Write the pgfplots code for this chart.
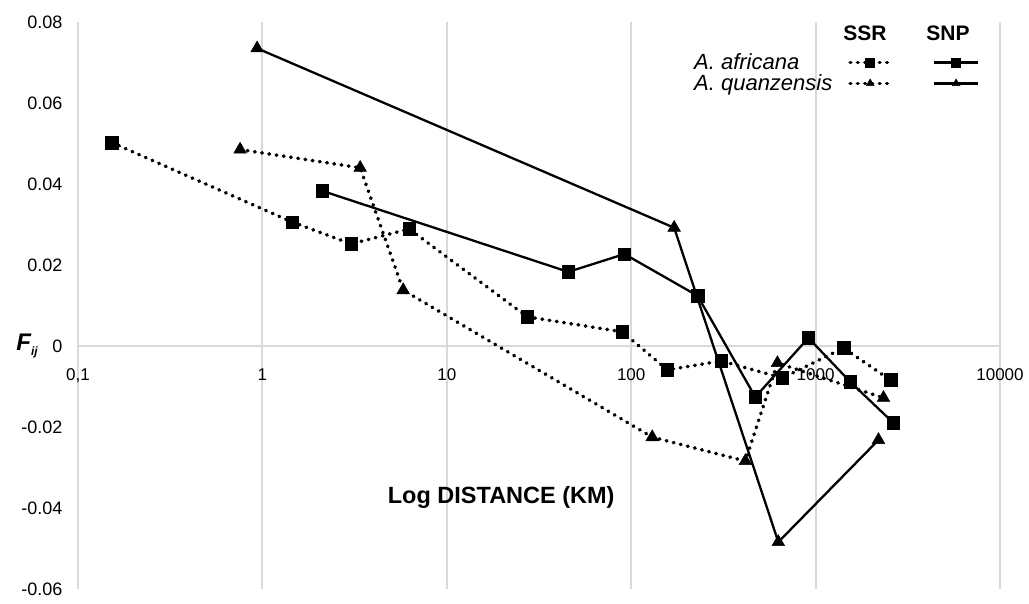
\documentclass[border=0pt]{standalone}
\usepackage{pgfplots}
\pgfplotsset{compat=1.18}
\usepackage{fontspec}
\setmainfont{Liberation Sans}
\definecolor{gridgray}{HTML}{D9D9D9}
\begin{document}
\begin{tikzpicture}
\useasboundingbox (-78pt,-15pt) rectangle (951pt,589pt);
\begin{axis}[
  at={(0pt,0pt)}, anchor=south west,
  scale only axis, width=922pt, height=567pt,
  xmode=log, xmin=0.1, xmax=10000, ymin=-0.06, ymax=0.08,
  axis x line=middle, axis y line=left,
  x axis line style={draw=gridgray, line width=2pt, -},
  y axis line style={draw=none},
  hide obscured x ticks=false, hide obscured y ticks=false,
  scaled y ticks=false, scaled x ticks=false,
  xtick={0.1,1,10,100,1000,10000},
  xticklabels={{0,1},1,10,100,1000,10000},
  ytick={-0.06,-0.04,-0.02,0,0.02,0.04,0.06,0.08},
  yticklabels={-0.06,-0.04,-0.02,0,0.02,0.04,0.06,0.08},
  major tick length=0pt, minor tick length=0pt, minor x tick num=0,
  xmajorgrids, xminorgrids=false,
  grid style={draw=gridgray, line width=2pt},
  xticklabel style={font=\fontsize{17}{20}\selectfont, yshift=-19pt},
  yticklabel style={font=\fontsize{18}{21}\selectfont, xshift=-12pt},
  clip=false,
  legend plot pos=right, legend columns=2,
  legend style={draw=none, fill=none, at={(axis description cs:0.667,0.946)}, anchor=north west,
    font=\fontsize{22}{24}\selectfont, row sep=1.5pt, inner sep=0pt, nodes={inner sep=1pt}, cells={anchor=west}},
  dotline/.style={black, line width=3.6pt, dash pattern=on 0.6pt off 6.7pt, line cap=round, mark options={solid, line width=0.5pt}},
  solline/.style={black, line width=2.3pt, mark options={solid, line width=0.5pt}},
  ssrleg/.style={legend image code/.code={\path (0pt,0pt); \draw[mark repeat=2,mark phase=2,##1, mark size=4.5pt] plot coordinates {(15pt,0pt) (35pt,0pt) (55pt,0pt)};}},
  snpleg/.style={legend image code/.code={\path (0pt,0pt); \draw[mark repeat=2,mark phase=2,##1, mark size=4.5pt, line width=2.8pt] plot coordinates {(39pt,0pt) (61pt,0pt) (83pt,0pt)};}},
]
% SSR A. africana
\addplot[dotline, ssrleg, mark=square*, mark size=6.3pt] coordinates {
 (0.153,0.0502) (1.45,0.0306) (3.03,0.0252) (6.25,0.0289) (27.3,0.0072) (89.5,0.0035)
 (157,-0.0059) (308,-0.0037) (661,-0.0079) (1416,-0.0005) (2547,-0.0084)};
\addlegendentry{\textit{A. africana}}
% SNP A. africana
\addplot[solline, snpleg, mark=square*, mark size=6.3pt] coordinates {
 (2.11,0.0383) (45.6,0.0183) (91.9,0.0227) (229,0.0124) (471,-0.0126) (914,0.0020)
 (1545,-0.0089) (2643,-0.0190)};
\addlegendentry{}
% SSR A. quanzensis
\addplot[dotline, ssrleg, mark=triangle*, mark size=7.3pt] coordinates {
 (0.757,0.0485) (3.39,0.0440) (5.8,0.0138) (130,-0.0225) (416,-0.0284) (621,-0.0042) (2334,-0.0128)};
\addlegendentry{\textit{A. quanzensis}}
% SNP A. quanzensis
\addplot[solline, snpleg, mark=triangle*, mark size=7.3pt] coordinates {
 (0.936,0.0735) (171,0.0292) (628,-0.0484) (2193,-0.0232)};
\addlegendentry{}
\node[font=\bfseries\fontsize{21}{23}\selectfont] at (axis description cs:0.8536,0.9806) {SSR};
\node[font=\bfseries\fontsize{21}{23}\selectfont] at (axis description cs:0.9436,0.9806) {SNP};
\node[font=\bfseries\fontsize{23.5}{26}\selectfont] at (axis description cs:0.459,0.162) {Log DISTANCE (KM)};
\node[anchor=east, xshift=-40pt, font=\bfseries\itshape\fontsize{24}{26}\selectfont, inner sep=0pt] at (axis description cs:0,0.4286) {F\raisebox{-5pt}{\fontsize{12}{14}\selectfont ij}};
\end{axis}
\end{tikzpicture}
\end{document}
